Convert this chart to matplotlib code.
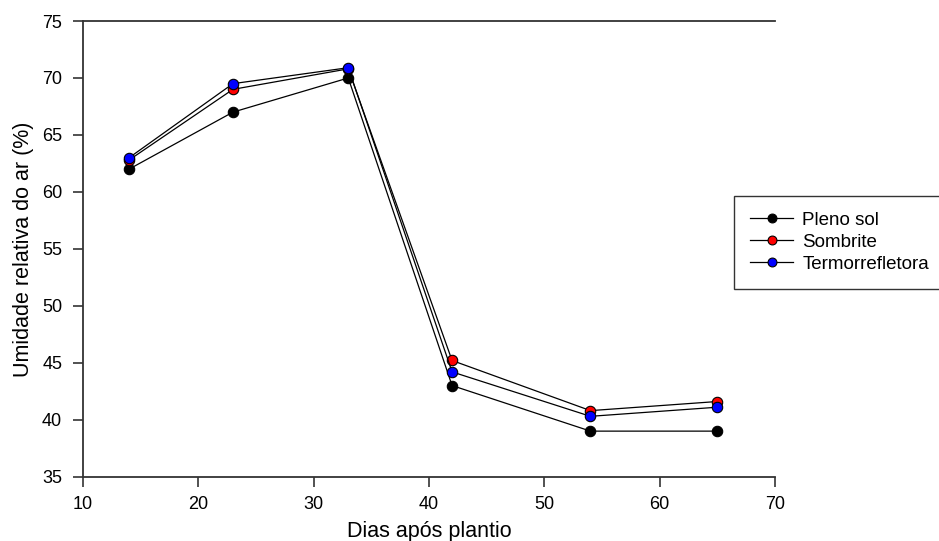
import matplotlib
matplotlib.use("Agg")
import matplotlib.pyplot as plt

plt.rcParams['font.family'] = ['Liberation Sans', 'DejaVu Sans']

dias = [14, 23, 33, 42, 54, 65]
pleno_sol = [62.0, 67.0, 70.0, 43.0, 39.0, 39.0]
sombrite = [62.8, 69.0, 70.8, 45.2, 40.8, 41.6]
termorrefletora = [63.0, 69.5, 70.9, 44.2, 40.3, 41.1]

series = [
    ("Pleno sol", pleno_sol, "black"),
    ("Sombrite", sombrite, "red"),
    ("Termorrefletora", termorrefletora, "blue"),
]

fig = plt.figure(figsize=(9.39, 5.41), dpi=100)
ax = fig.add_axes([83/939, 1-476.7/541, (775-83)/939, (476.7-21)/541])

for name, vals, col in series:
    ax.plot(dias, vals, color="black", lw=0.9, marker="o", markersize=7.5,
            markerfacecolor=col, markeredgecolor="black", markeredgewidth=0.8,
            label=name)

ax.set_xlim(10, 70)
ax.set_ylim(35, 75)
ax.set_xticks(range(10, 71, 10))
ax.set_yticks(range(35, 76, 5))
for s in ['left', 'bottom', 'top']:
    ax.spines[s].set_linewidth(1.3)
    ax.spines[s].set_color('#333333')
ax.spines['right'].set_visible(False)
ax.tick_params(direction='out', length=7, width=1.2, color='#333333', labelsize=13)
ax.tick_params(axis='x', pad=7)
ax.tick_params(axis='y', pad=8)

ax.set_xlabel("Dias após plantio", fontsize=15.5, labelpad=6)
ax.set_ylabel("Umidade relativa do ar (%)", fontsize=15.5, labelpad=6)

leg = fig.legend(loc='upper left', bbox_to_anchor=(734/939, 1-196/541),
                 fontsize=13.5, frameon=True, fancybox=False, shadow=False,
                 handlelength=2.3, handletextpad=0.5, labelspacing=0.25,
                 borderpad=0.85, borderaxespad=0, markerscale=0.85)
leg.get_frame().set_edgecolor('black')
leg.get_frame().set_linewidth(1.0)

fig.savefig("out.png", dpi=100)
